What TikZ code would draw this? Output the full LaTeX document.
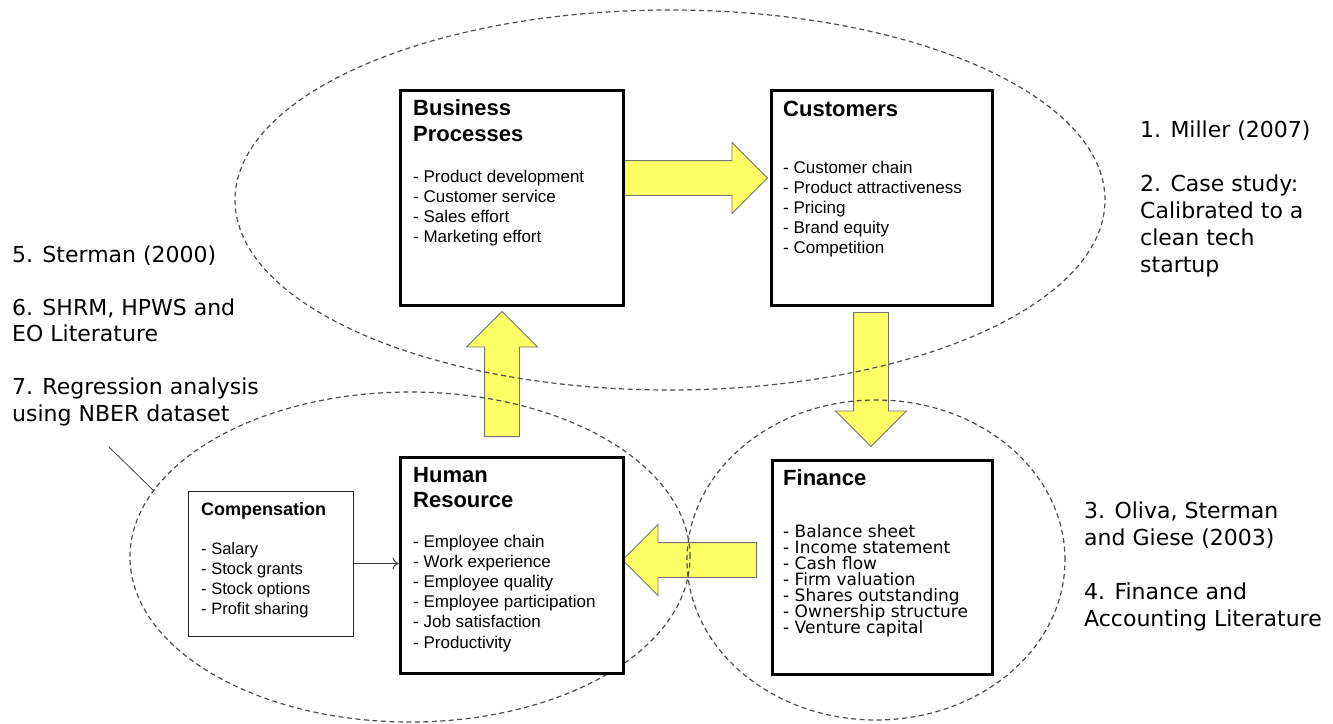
\documentclass[tikz,border=0pt]{standalone}
\usepackage{fontspec}
\setmainfont{Liberation Sans}
\newfontfamily\verd{DejaVu Sans}
\usetikzlibrary{shapes.arrows,arrows.meta}
\definecolor{arrowyellow}{HTML}{FFFF66}
\definecolor{dashgray}{HTML}{4D4D4D}
\newcommand\tlines[1]{\vtop{\lineskiplimit=-100pt\relax #1}}
\newcommand\li[1]{\hbox{#1}}
\begin{document}
\begin{tikzpicture}[x=1pt,y=-1pt,
 bigbox/.style={draw=black, line width=3pt, fill=white, anchor=north west, inner sep=0pt},
 smallbox/.style={draw=black!85, line width=1pt, fill=white, anchor=north west, inner sep=0pt},
 blockarrow/.style={single arrow, draw=black!55, line width=0.9pt, fill=arrowyellow, inner xsep=0pt, inner ysep=17pt, minimum width=0pt, single arrow head extend=18pt, anchor=tail},
 group/.style={draw=dashgray, line width=1.2pt, dash pattern=on 5pt off 3.5pt},
 title/.style={anchor=base west, inner sep=0pt, font=\fontsize{22}{26}\selectfont\bfseries},
 items/.style={anchor=base west, inner sep=0pt, font=\fontsize{17}{20.2}\selectfont},
 finitems/.style={anchor=base west, inner sep=0pt, font=\verd\fontsize{17}{16}\selectfont},
 ref/.style={anchor=base west, inner sep=0pt, font=\verd\fontsize{22}{27}\selectfont},
 link/.style={draw=black!75, line width=1pt},
]
\useasboundingbox (0,0) rectangle (1333,723);

% block arrows
\node[blockarrow, minimum height=144pt] (a1) at (623,178) {};
\node[blockarrow, minimum height=134pt, rotate=-90] (a2) at (871,312) {};
\node[blockarrow, minimum height=134pt, rotate=180] (a3) at (757,560) {};
\node[blockarrow, minimum height=125pt, rotate=90] (a4) at (502,437) {};

% dashed groups
\draw[group] (670,200) ellipse [x radius=435pt, y radius=190pt];
\draw[group] (410,557) ellipse [x radius=280pt, y radius=165pt];
\draw[group] (876,560) ellipse [x radius=189pt, y radius=160pt];

% boxes
\node[bigbox, minimum width=223pt, minimum height=215pt] (bp) at (398.5,88.5) {};
\node[bigbox, minimum width=221pt, minimum height=215pt] (cu) at (769.5,88.5) {};
\node[bigbox, minimum width=223pt, minimum height=216pt] (hr) at (398.5,455.5) {};
\node[bigbox, minimum width=220pt, minimum height=214pt] (fi) at (770.5,458.5) {};
\node[smallbox, minimum width=165pt, minimum height=145pt] (co) at (187.5,490.5) {};

% box texts
\node[title] (bpT) at (413,115) {\tlines{\li{Business}\li{Processes}}};
\node[items] (bpI) at (413,182) {\tlines{\li{- Product development}\li{- Customer service}\li{- Sales effort}\li{- Marketing effort}}};
\node[title] (cuT) at (783,116) {Customers};
\node[items] (cuI) at (783,173) {\tlines{\li{- Customer chain}\li{- Product attractiveness}\li{- Pricing}\li{- Brand equity}\li{- Competition}}};
\node[title, font=\fontsize{22}{25}\selectfont\bfseries] (hrT) at (413,482) {\tlines{\li{Human}\li{Resource}}};
\node[items] (hrI) at (413,547) {\tlines{\li{- Employee chain}\li{- Work experience}\li{- Employee quality}\li{- Employee participation}\li{- Job satisfaction}\li{- Productivity}}};
\node[title] (fiT) at (783,485) {Finance};
\node[finitems] (fiI) at (783,537) {\tlines{\li{- Balance sheet}\li{- Income statement}\li{- Cash flow}\li{- Firm valuation}\li{- Shares outstanding}\li{- Ownership structure}\li{- Venture capital}}};
\node[title, font=\fontsize{18}{20}\selectfont\bfseries] (coT) at (201,515) {Compensation};
\node[items, font=\fontsize{16.5}{20}\selectfont] (coI) at (201,554) {\tlines{\li{- Salary}\li{- Stock grants}\li{- Stock options}\li{- Profit sharing}}};

\draw[link, -{To[length=6pt,width=12pt]}] (co.east) -- (co.east -| hr.west);

% references
\node[ref] (refR) at (1140,137) {\tlines{\li{1. Miller (2007)}\li{}\li{2. Case study:}\li{Calibrated to a}\li{clean tech}\li{startup}}};
\node[ref, font=\verd\fontsize{22}{26.5}\selectfont] (refL) at (12,262) {\tlines{\li{5. Sterman (2000)}\li{}\li{6. SHRM, HPWS and}\li{EO Literature}\li{}\li{7. Regression analysis}\li{using NBER dataset}}};
\node[ref] (refB) at (1084,518) {\tlines{\li{3. Oliva, Sterman}\li{and Giese (2003)}\li{}\li{4. Finance and}\li{Accounting Literature}}};

\coordinate (lt) at (109,447);
\coordinate (le) at (154,491);
\draw[link, line width=0.8pt] (lt) -- (le);
\end{tikzpicture}
\end{document}
